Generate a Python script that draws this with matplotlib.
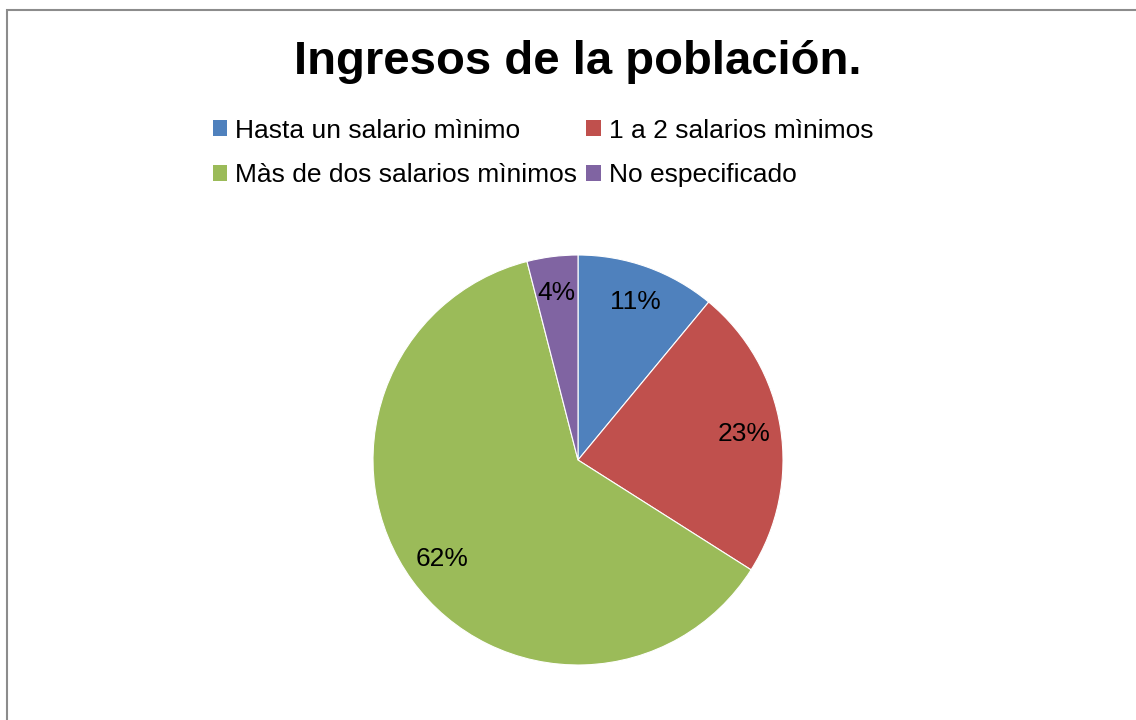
import matplotlib
matplotlib.use("Agg")
import matplotlib.pyplot as plt
from matplotlib.patches import Rectangle, Patch

plt.rcParams['font.family'] = ['Liberation Sans', 'DejaVu Sans']

title = "Ingresos de la población."
categories = ["Hasta un salario mìnimo", "1 a 2 salarios mìnimos",
              "Màs de dos salarios mìnimos", "No especificado"]
values = [11, 23, 62, 4]
colors = ["#4F81BD", "#C0504D", "#9BBB59", "#8064A2"]

W, H = 1136, 720
fig = plt.figure(figsize=(W / 100, H / 100), dpi=100)
fig.patch.set_facecolor("white")

# outer border (chart area frame)
fig.patches.append(Rectangle((7 / W, -0.05), 1.1, (H - 10) / H + 0.05,
                             transform=fig.transFigure, fill=False,
                             edgecolor="#8c8c8c", linewidth=1.5))

cx, cy, r = 578, 460, 205
ax = fig.add_axes([(cx - r) / W, (H - cy - r) / H, 2 * r / W, 2 * r / H])
wedges, texts, autotexts = ax.pie(
    values, colors=colors, startangle=90, counterclock=False,
    autopct=lambda p: f"{p:.0f}%", pctdistance=0.82,
    wedgeprops=dict(linewidth=0.8, edgecolor="white"),
    textprops=dict(fontsize=19, color="black"))
ax.set_xlim(-1, 1)
ax.set_ylim(-1, 1)
ax.set_aspect("equal")
ax.axis("off")

fig.text(578 / W, 1 - 62 / H, title, ha="center", va="center",
         fontsize=34, fontweight="bold")

# legend laid out row by row (2 columns)
order = [0, 2, 1, 3]
handles = [Patch(facecolor=colors[i], edgecolor="none") for i in order]
labels = [categories[i] for i in order]
leg = fig.legend(handles, labels, ncol=2, loc="center",
                 bbox_to_anchor=(543 / W, 1 - 153 / H), frameon=False,
                 fontsize=19, handlelength=0.55, handleheight=0.55,
                 handletextpad=0.3, columnspacing=0.35, labelspacing=0.79)

fig.savefig("out.png", dpi=100, facecolor="white")
